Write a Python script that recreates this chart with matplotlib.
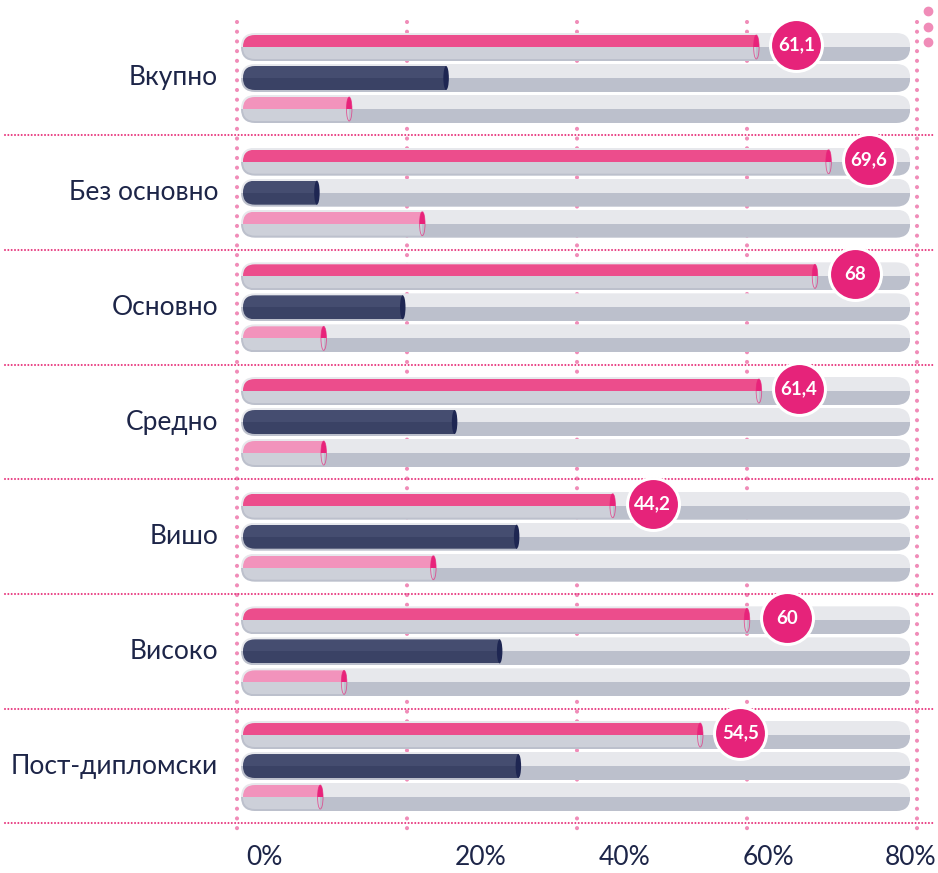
import matplotlib
matplotlib.use('Agg')
import matplotlib.pyplot as plt
from matplotlib.patches import FancyBboxPatch, Rectangle, Ellipse

# ---------------- data ----------------
categories = ["Вкупно", "Без основно", "Основно", "Средно", "Вишо", "Високо", "Пост-дипломски"]
series_main = [61.1, 69.6, 68, 61.4, 44.2, 60, 54.5]
series_dark = [24.6, 9.4, 19.5, 25.6, 32.9, 30.9, 33.1]
series_light = [13.2, 21.8, 10.2, 10.2, 23.1, 12.6, 9.8]
value_labels = ["61,1", "69,6", "68", "61,4", "44,2", "60", "54,5"]
grid_values = [0, 20, 40, 60, 80]
tick_labels = ["0%", "20%", "40%", "60%", "80%"]

# ---------------- layout constants ----------------
W, H = 938, 873
PX = 8.5        # pixels per x unit (percent)
PY = 114.67     # pixels per group
X0PX = 237      # pixel of x=0
Y0PX = 78       # pixel of first group centre
tick_label_x = [3.2, 28.7, 45.6, 62.5, 79.2]
TRACK_START, TRACK_END, BAR_START = 0.47, 79.2, 0.7
ROW_OFF = 31 / PY
ASP = PX / PY

C_TEXT = "#1d2548"
C_TRACK_T, C_TRACK_B = "#e7e8ec", "#bcc0cc"
C_PINK_T, C_GREYB = "#ec4d8c", "#cdd0d9"
C_PINK_CAP = "#e8237a"
C_NAVY_T, C_NAVY_B, C_NAVY_CAP = "#454d70", "#3a4265", "#1e2652"
C_LIGHT_T = "#f293bc"
C_DOT = "#f08cb8"
C_SEP = "#e8387f"
C_CIRCLE = "#e6237a"

fig = plt.figure(figsize=(W / 100, H / 100), dpi=100)
ax = fig.add_axes([0, 0, 1, 1])
ax.set_xlim(-X0PX / PX, (W - X0PX) / PX)
ax.set_ylim((H - Y0PX) / PY, -Y0PX / PY)
ax.axis('off')

FONT = ['Lato', 'DejaVu Sans']


def capsule(x0, x1, yc, h_px, top, bot, cut=None, zorder=3):
    h = h_px / PY
    r = (h_px / 2) / PX
    shape = FancyBboxPatch((x0, yc - h / 2), x1 - x0, h,
                           boxstyle=f"round,pad=0,rounding_size={r}",
                           mutation_aspect=1 / ASP * (1 / PX) / (1 / PX) if False else (1 / PY) / (1 / PX),
                           transform=ax.transData, facecolor='none', edgecolor='none')
    xe = x1 if cut is None else cut
    for y0, col in ((yc - h / 2, top), (yc, bot)):
        rect = Rectangle((x0, y0), xe - x0, h / 2, facecolor=col, edgecolor='none',
                         zorder=zorder)
        ax.add_patch(rect)
        rect.set_clip_path(shape)


def bar(v, yc, top, bot, cap_kind, zorder=4):
    h_px = 24
    h = h_px / PY
    r = (h_px / 2) / PX
    capsule(BAR_START, v + 2 * r, yc, h_px, top, bot, cut=v, zorder=zorder)
    cw = 5.5 / PX
    if cap_kind == 'navy':
        ax.add_patch(Ellipse((v, yc), cw, h, facecolor=C_NAVY_CAP, edgecolor='none',
                             zorder=zorder + 1))
    else:
        e = Ellipse((v, yc), cw, h, facecolor=C_PINK_CAP, edgecolor='none',
                    zorder=zorder + 1)
        ax.add_patch(e)
        clip = Rectangle((v - 1, yc - h / 2), 2, h / 2, transform=ax.transData)
        e.set_clip_path(clip)
        ax.add_patch(Ellipse((v, yc), cw, h, facecolor='none', edgecolor=C_PINK_CAP,
                             lw=0.6, alpha=0.7, zorder=zorder + 1))


# vertical dotted grid lines
for g in grid_values:
    ax.plot([g, g], [(22 - Y0PX) / PY, (830 - Y0PX) / PY], color=C_DOT, lw=3.0,
            linestyle=(0, (0.001, 2.33)), dash_capstyle='round', zorder=1)

# horizontal group separators
for i in range(len(categories)):
    ax.plot([(5 - X0PX) / PX, (935 - X0PX) / PX], [i + 0.5, i + 0.5], color=C_SEP,
            lw=1.5, linestyle=(0, (0.001, 1.6)), dash_capstyle='round', zorder=1)

for i, cat in enumerate(categories):
    rows = [i - ROW_OFF, i, i + ROW_OFF]
    for yc in rows:
        capsule(TRACK_START, TRACK_END, yc, 28, C_TRACK_T, C_TRACK_B, zorder=2)
    bar(series_main[i], rows[0], C_PINK_T, C_GREYB, 'pink')
    bar(series_dark[i], rows[1], C_NAVY_T, C_NAVY_B, 'navy')
    bar(series_light[i], rows[2], C_LIGHT_T, C_GREYB, 'pink')

    ax.text((218 - X0PX) / PX, i, cat, ha='right', va='center', fontsize=19,
            color=C_TEXT, family=FONT)

    cx = series_main[i] + 40 / PX
    cy = rows[0] - 2 / PY
    ax.scatter([cx], [cy], s=1400, color=C_CIRCLE, edgecolor='white', linewidth=2.2,
               zorder=8)
    ax.text(cx, cy, value_labels[i], ha='center', va='center', color='white',
            fontsize=13.5, fontweight='bold', family=FONT, zorder=9)

for x, lab in zip(tick_label_x, tick_labels):
    ax.text(x, (858 - Y0PX) / PY, lab, ha='center', va='center', fontsize=19,
            color=C_TEXT, family=FONT)

# decorative dots top-right
ax.scatter([(928 - X0PX) / PX] * 3, [(y - Y0PX) / PY for y in (11, 27, 42)],
           s=36, color=C_DOT, zorder=5)

fig.savefig('out.png', dpi=100)
